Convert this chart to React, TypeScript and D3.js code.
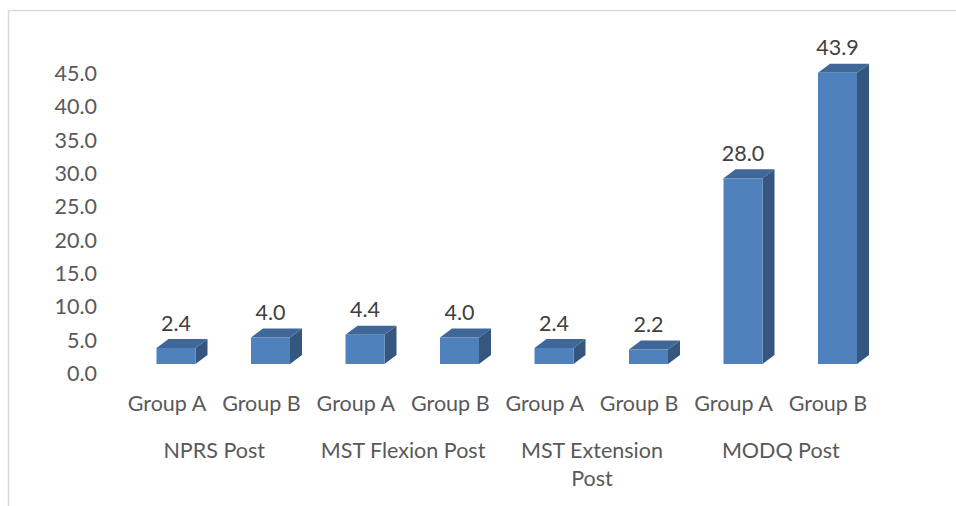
import React from "react";
import * as d3 from "d3";

const groups = ["Group A", "Group B", "Group A", "Group B", "Group A", "Group B", "Group A", "Group B"];
const values = [2.4, 4.0, 4.4, 4.0, 2.4, 2.2, 28.0, 43.9];
const measures = [["NPRS Post"], ["MST Flexion Post"], ["MST Extension", "Post"], ["MODQ Post"]];
const yTicks = [0, 5, 10, 15, 20, 25, 30, 35, 40, 45];

const W = 956;
const H = 506;
const FONT = "Lato, 'Open Sans', sans-serif";

export default function App() {
  const idx = values.map((_, i) => i);
  const xBar = d3.scalePoint<number>().domain(idx).range([176, 837.5]);
  const xLab = d3.scalePoint<number>().domain(idx).range([167, 828]);
  const yBar = d3.scaleLinear().domain([0, 45]).range([364, 65.5]);
  const yLab = d3.scaleLinear().domain([0, 45]).range([373.5, 73.5]);
  const barW = 39;
  const dx = 12;
  const dy = -9;

  return (
    <svg width={W} height={H} style={{ position: "absolute", left: 0, top: 0, background: "#fff" }}>
      <path d={`M8.5,${H} V10.5 H${W}`} fill="none" stroke="#d9d9d9" strokeWidth={1.5} />
      {yTicks.map((t) => (
        <text key={t} x={97} y={yLab(t)} dy="0.35em" textAnchor="end" fontFamily={FONT} fontSize={21.5} fill="#595959">
          {t.toFixed(1)}
        </text>
      ))}
      {values.map((v, i) => {
        const x0 = xBar(i)! - barW / 2;
        const x1 = x0 + barW;
        const yT = yBar(v);
        const yB = yBar(0);
        const front = `M${x0},${yB} H${x1} V${yT} H${x0} Z`;
        const top = `M${x0},${yT} L${x0 + dx},${yT + dy} H${x1 + dx} L${x1},${yT} Z`;
        const side = `M${x1},${yB} L${x1 + dx},${yB + dy} V${yT + dy} L${x1},${yT} Z`;
        return (
          <g key={i}>
            <path d={side} fill="#34567f" />
            <path d={top} fill="#3f6797" />
            <path d={front} fill="#4f81bd" />
            <text x={xBar(i)!} y={yT + dy - 8.5} textAnchor="middle" fontFamily={FONT} fontSize={21.5} fill="#404040">
              {v.toFixed(1)}
            </text>
          </g>
        );
      })}
      {groups.map((g, i) => (
        <text key={i} x={xLab(i)!} y={403} dy="0.35em" textAnchor="middle" fontFamily={FONT} fontSize={21.5} fill="#595959">
          {g}
        </text>
      ))}
      {measures.map((lines, j) => {
        const cx = (xLab(2 * j)! + xLab(2 * j + 1)!) / 2;
        return lines.map((ln, k) => (
          <text key={`${j}-${k}`} x={cx} y={450 + k * 28.5} dy="0.35em" textAnchor="middle" fontFamily={FONT} fontSize={21.5} fill="#595959">
            {ln}
          </text>
        ));
      })}
    </svg>
  );
}
